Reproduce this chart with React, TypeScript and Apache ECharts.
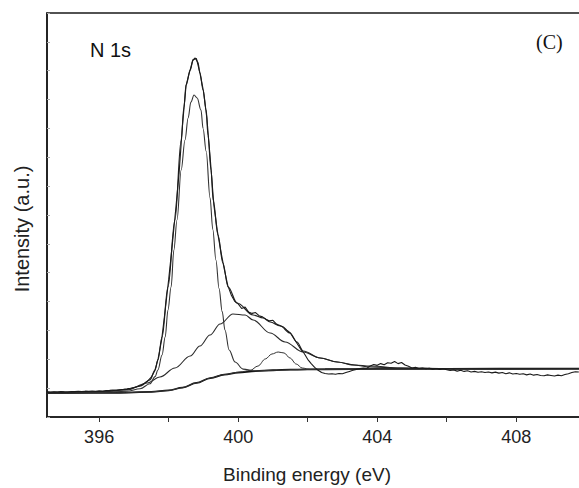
import React, { useEffect, useRef } from "react";
import * as echarts from "echarts";

// Raw N 1s spectrum (binding energy in eV, intensity in counts)
const rawEnergy = [
  394.5, 394.6, 394.7, 394.8, 394.9, 395.0, 395.1, 395.2, 395.3, 395.4,
  395.5, 395.6, 395.7, 395.8, 395.9, 396.0, 396.1, 396.2, 396.3, 396.4,
  396.5, 396.6, 396.7, 396.8, 396.9, 397.0, 397.1, 397.2, 397.3, 397.4,
  397.5, 397.6, 397.7, 397.8, 397.9, 398.0, 398.1, 398.2, 398.3, 398.4,
  398.5, 398.6, 398.7, 398.8, 398.9, 399.0, 399.1, 399.2, 399.3, 399.4,
  399.5, 399.6, 399.7, 399.8, 399.9, 400.0, 400.1, 400.2, 400.3, 400.4,
  400.5, 400.6, 400.7, 400.8, 400.9, 401.0, 401.1, 401.2, 401.3, 401.4,
  401.5, 401.6, 401.7, 401.8, 401.9, 402.0, 402.1, 402.2, 402.3, 402.4,
  402.5, 402.6, 402.7, 402.8, 402.9, 403.0, 403.1, 403.2, 403.3, 403.4,
  403.5, 403.6, 403.7, 403.8, 403.9, 404.0, 404.1, 404.2, 404.3, 404.4,
  404.5, 404.6, 404.7, 404.8, 404.9, 405.0, 405.1, 405.2, 405.3, 405.4,
  405.5, 405.6, 405.7, 405.8, 405.9, 406.0, 406.1, 406.2, 406.3, 406.4,
  406.5, 406.6, 406.7, 406.8, 406.9, 407.0, 407.1, 407.2, 407.3, 407.4,
  407.5, 407.6, 407.7, 407.8, 407.9, 408.0, 408.1, 408.2, 408.3, 408.4,
  408.5, 408.6, 408.7, 408.8, 408.9, 409.0, 409.1, 409.2, 409.3, 409.4,
  409.5, 409.6, 409.7, 409.8,
];
const rawCounts = [
  870, 858, 876, 864, 880, 872, 866, 885, 878, 890,
  882, 895, 888, 902, 894, 905, 898, 915, 922, 930,
  925, 945, 958, 975, 995, 1020, 1050, 1095, 1165, 1250,
  1380, 1600, 2040, 2690, 3700, 4760, 5920, 7150, 8450, 10150,
  11480, 11950, 12380, 12420, 11920, 11300, 10350, 8900, 7350, 6450,
  5750, 5120, 4560, 4230, 4010, 3920, 3760, 3810, 3640, 3590,
  3620, 3510, 3470, 3390, 3330, 3350, 3220, 3170, 3120, 3010,
  2910, 2720, 2540, 2350, 2200, 2000, 1850, 1720, 1620, 1540,
  1510, 1490, 1500, 1480, 1510, 1500, 1540, 1580, 1620, 1650,
  1680, 1700, 1690, 1770, 1820, 1790, 1850, 1810, 1880, 1860,
  1920, 1850, 1890, 1800, 1760, 1700, 1720, 1680, 1700, 1670,
  1690, 1660, 1680, 1650, 1670, 1640, 1610, 1630, 1590, 1620,
  1580, 1600, 1560, 1580, 1550, 1570, 1540, 1560, 1530, 1555,
  1520, 1540, 1500, 1530, 1490, 1510, 1480, 1500, 1460, 1490,
  1450, 1470, 1440, 1430, 1460, 1440, 1420, 1450, 1430, 1470,
  1500, 1540, 1570, 1560,
];

// Fitted envelope
const envelopeEnergy = [
  394.5, 396.03, 396.8, 397.18, 397.46, 397.61, 397.69, 397.81, 397.98, 398.18,
  398.36, 398.44, 398.5, 398.62, 398.7, 398.76, 398.84, 398.9, 398.99, 399.08,
  399.13, 399.22, 399.28, 399.42, 399.56, 399.71, 399.97, 400.43, 400.72, 400.92,
  401.21, 401.49, 401.69, 401.87, 402.36, 402.85, 403.31, 403.8, 404.66, 406.1, 409.92,
];
const envelopeCounts = [
  866, 884, 953, 1074, 1282, 1629, 1975, 2772, 4505, 6826,
  9598, 10742, 11504, 12024, 12370, 12439, 12301, 11920, 11331, 10638,
  9771, 8559, 7519, 6306, 5336, 4505, 3950, 3534, 3430, 3292,
  3153, 2911, 2599, 2287, 2044, 1906, 1802, 1733, 1698, 1680, 1678,
];

// Main component (~398.7 eV)
const mainEnergy = [
  394.5, 396.03, 396.8, 397.18, 397.46, 397.61, 397.69, 397.81, 397.9, 397.98,
  398.07, 398.15, 398.24, 398.36, 398.47, 398.56, 398.64, 398.73, 398.82, 398.93,
  398.99, 399.08, 399.19, 399.27, 399.36, 399.45, 399.54, 399.62, 399.74, 399.91,
  400.14, 400.5, 401.0, 402.0, 404.0, 409.92,
];
const mainCounts = [
  832, 849, 890, 980, 1150, 1400, 1629, 2148, 2772, 3708,
  4505, 5787, 6826, 8558, 9598, 10360, 10915, 11157, 11053, 10638,
  10000, 9200, 7600, 6500, 5440, 4450, 3650, 3015, 2321, 1906,
  1660, 1595, 1622, 1650, 1665, 1675,
];

// Second component (~399.9 eV)
const wideEnergy = [
  394.5, 396.03, 396.8, 397.38, 397.75, 398.18, 398.62, 398.9, 399.19, 399.48,
  399.85, 400.2, 400.43, 400.92, 401.35, 401.87, 402.36, 402.85, 403.36, 403.8,
  404.66, 406.1, 409.92,
];
const wideCounts = [
  832, 866, 936, 1178, 1386, 1698, 2114, 2460, 2841, 3222,
  3569, 3534, 3361, 2911, 2599, 2252, 2044, 1906, 1802, 1767,
  1698, 1670, 1675,
];

// Third component (~401.2 eV)
const thirdEnergy = [
  394.5, 396.5, 397.5, 398.0, 398.4, 398.8, 399.2, 399.6, 400.05, 400.34,
  400.57, 400.78, 400.97, 401.15, 401.32, 401.49, 401.67, 401.84, 402.07, 402.5,
  404.0, 406.0, 409.92,
];
const thirdCounts = [
  832, 840, 870, 920, 1020, 1180, 1350, 1470, 1559, 1611,
  1767, 2010, 2183, 2252, 2218, 2044, 1836, 1698, 1646, 1655,
  1665, 1670, 1675,
];

// Shirley background
const bgEnergy = [
  394.5, 396.5, 397.5, 398.0, 398.4, 398.8, 399.2, 399.6, 400.0, 400.5,
  401.0, 401.5, 402.5, 404.0, 406.0, 409.92,
];
const bgCounts = [
  832, 840, 870, 920, 1020, 1180, 1350, 1470, 1540, 1590,
  1620, 1640, 1655, 1665, 1670, 1675,
];

const xTicks = [396, 398, 400, 402, 404, 406, 408];
const xLabels = [396, 400, 404, 408];

const zip = (xs: number[], ys: number[]) => xs.map((x, i) => [x, ys[i]]);

export default function App() {
  const ref = useRef<HTMLDivElement>(null);
  useEffect(() => {
    if (!ref.current) return;
    const chart = echarts.init(ref.current, null, { renderer: "svg" });
    const sans = "Liberation Sans, Arial, sans-serif";
    const comp = (name: string, xs: number[], ys: number[], w: number, c: string, z: number) => ({
      name,
      type: "line",
      data: zip(xs, ys),
      showSymbol: false,
      smooth: 0.35,
      smoothMonotone: "x",
      z,
      lineStyle: { color: c, width: w },
    });
    chart.setOption({
      animation: false,
      backgroundColor: "#ffffff",
      grid: {
        left: 47,
        top: 13,
        bottom: 71,
        width: 536,
        outerBoundsMode: "none",
        containLabel: false,
        show: true,
        borderColor: "#1a1a1a",
        borderWidth: 1.6,
        backgroundColor: "transparent",
      },
      xAxis: {
        type: "value",
        min: 394.5,
        max: 409.92,
        axisLine: { show: true, lineStyle: { color: "#1a1a1a", width: 1.5 } },
        axisTick: {
          show: true,
          inside: false,
          length: 5,
          customValues: xTicks,
          lineStyle: { color: "#333", width: 1 },
        },
        axisLabel: {
          show: true,
          customValues: xLabels,
          margin: 11,
          color: "#222",
          fontFamily: sans,
          fontSize: 18,
        },
        splitLine: { show: false },
      },
      yAxis: {
        type: "value",
        min: 0,
        max: 14000,
        interval: 1000,
        axisLine: { show: true, lineStyle: { color: "#1a1a1a", width: 1.5 } },
        axisTick: { show: true, inside: true, length: 3, lineStyle: { color: "#aaa", width: 1 } },
        axisLabel: { show: false },
        splitLine: { show: false },
      },
      graphic: [
        {
          type: "text",
          x: 90,
          y: 50,
          style: { text: "N 1s", fill: "#111", font: "20px Liberation Sans, Arial, sans-serif", textVerticalAlign: "middle" },
        },
        {
          type: "text",
          x: 536,
          y: 42,
          style: { text: "(C)", fill: "#111", font: "20px Liberation Serif, Times New Roman, serif", textVerticalAlign: "middle" },
        },
        {
          type: "text",
          x: 307,
          y: 474,
          style: {
            text: "Binding energy (eV)",
            fill: "#222",
            font: "19px Liberation Sans, Arial, sans-serif",
            textAlign: "center",
            textVerticalAlign: "middle",
          },
        },
        {
          type: "text",
          x: 22,
          y: 229,
          rotation: Math.PI / 2,
          style: {
            text: "Intensity (a.u.)",
            fill: "#222",
            font: "20px Liberation Sans, Arial, sans-serif",
            textAlign: "center",
            textVerticalAlign: "middle",
          },
        },
      ],
      series: [
        comp("Background", bgEnergy, bgCounts, 1.8, "#111", 2),
        comp("Component 3", thirdEnergy, thirdCounts, 1, "#333", 3),
        comp("Component 2", wideEnergy, wideCounts, 1.1, "#2a2a2a", 3),
        comp("Component 1", mainEnergy, mainCounts, 1.1, "#333", 3),
        comp("Envelope", envelopeEnergy, envelopeCounts, 1.2, "#222", 4),
        {
          name: "Raw data",
          type: "line",
          data: zip(rawEnergy, rawCounts),
          showSymbol: false,
          z: 5,
          lineStyle: { color: "#1a1a1a", width: 1.1 },
        },
      ],
    });
    return () => chart.dispose();
  }, []);
  return (
    <div
      ref={ref}
      style={{ position: "fixed", left: 0, top: 0, width: 579, height: 488, background: "#fff" }}
    />
  );
}
